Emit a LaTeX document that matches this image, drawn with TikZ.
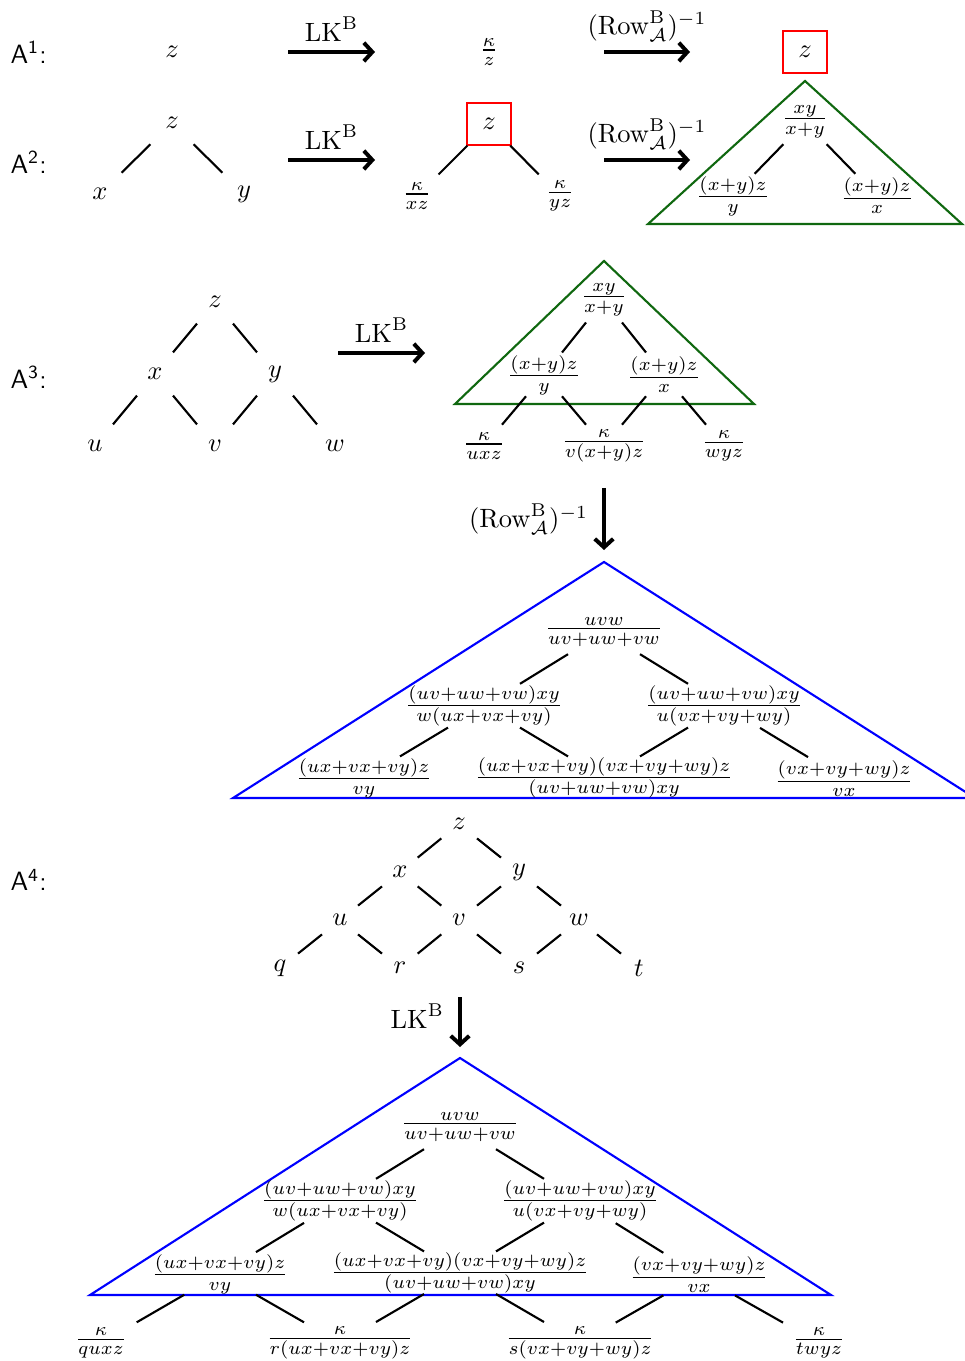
\documentclass[tikz,border=0pt]{standalone}
\usetikzlibrary{calc,arrows.meta}
\definecolor{dkgreen}{RGB}{16,104,16}
\newcommand\treeline[2]{\draw[edge] ($(#1)!0.3!(#2)$) -- ($(#1)!0.7!(#2)$);}
\tikzset{
  lab/.style={font=\sffamily, anchor=west, inner sep=0pt},
  tn/.style={inner sep=1pt},
  edge/.style={line width=0.8pt},
  maparrow/.style={line width=1.5pt,-{Straight Barb[length=3.2pt,width=7pt]}},
  redbox/.style={draw=red, line width=0.8pt, minimum width=16.6pt, minimum height=16.2pt, inner sep=0pt},
  gtri/.style={draw=dkgreen, line width=0.8pt},
  btri/.style={draw=blue, line width=0.8pt},
}
\begin{document}
\begin{tikzpicture}[x=0.378pt,y=-0.378pt]
\useasboundingbox (0,0) rectangle (965,1361);
% ---------- A1
\node[lab] (lA1) at (10,52) {A\textsuperscript{1}:};
\node[tn] (a1z) at (172,52) {$z$};
\node[tn] (a1k) at (489,52) {$\frac{\kappa}{z}$};
\node[redbox] (a1r) at (805,52) {$z$};
\coordinate (ar1s) at (288,52); \coordinate (ar1e) at (375,52);
\draw[maparrow] (ar1s) -- node[above=0pt] {$\mathrm{LK}^{\mathrm{B}}$} (ar1e);
\coordinate (ar2s) at (604,52); \coordinate (ar2e) at (690,52);
\draw[maparrow] (ar2s) -- node[above=0pt] {$(\mathrm{Row}^{\mathrm{B}}_{\mathcal{A}})^{-1}$} (ar2e);
% ---------- A2
\node[lab] (lA2) at (10,162) {A\textsuperscript{2}:};
\node[tn] (a2z) at (172,123) {$z$};
\node[tn] (a2x) at (100,194) {$x$};
\node[tn] (a2y) at (244,194) {$y$};
\treeline{a2z}{a2x}\treeline{a2z}{a2y}
\coordinate (ar3s) at (288,160); \coordinate (ar3e) at (375,160);
\draw[maparrow] (ar3s) -- node[above=0pt] {$\mathrm{LK}^{\mathrm{B}}$} (ar3e);
\node[redbox] (b2z) at (489,124) {$z$};
\node[tn] (b2x) at (417,196) {$\frac{\kappa}{xz}$};
\node[tn] (b2y) at (560,196) {$\frac{\kappa}{yz}$};
\treeline{b2z}{b2x}\treeline{b2z}{b2y}
\coordinate (ar4s) at (604,160); \coordinate (ar4e) at (690,160);
\draw[maparrow] (ar4s) -- node[above=0pt] {$(\mathrm{Row}^{\mathrm{B}}_{\mathcal{A}})^{-1}$} (ar4e);
\coordinate (g2a) at (805,81); \coordinate (g2l) at (648,224); \coordinate (g2r) at (962,224);
\draw[gtri] (g2a) -- (g2l) -- (g2r) -- cycle;
\node[tn] (c2z) at (805,122) {$\frac{xy}{x+y}$};
\node[tn] (c2x) at (733,196) {$\frac{(x+y)z}{y}$};
\node[tn] (c2y) at (877,196) {$\frac{(x+y)z}{x}$};
\treeline{c2z}{c2x}\treeline{c2z}{c2y}
% ---------- A3
\node[lab] (lA3) at (10,377) {A\textsuperscript{3}:};
\node[tn] (a3z) at (215,302) {$z$};
\node[tn] (a3x) at (155,374) {$x$};
\node[tn] (a3y) at (275,374) {$y$};
\node[tn] (a3u) at (95,446) {$u$};
\node[tn] (a3v) at (215,446) {$v$};
\node[tn] (a3w) at (335,446) {$w$};
\treeline{a3z}{a3x}\treeline{a3z}{a3y}
\treeline{a3x}{a3u}\treeline{a3x}{a3v}
\treeline{a3y}{a3v}\treeline{a3y}{a3w}
\coordinate (ar5s) at (338,353); \coordinate (ar5e) at (425,353);
\draw[maparrow] (ar5s) -- node[above=0pt] {$\mathrm{LK}^{\mathrm{B}}$} (ar5e);
\coordinate (g3a) at (604,261); \coordinate (g3l) at (455,404); \coordinate (g3r) at (754,404);
\draw[gtri] (g3a) -- (g3l) -- (g3r) -- cycle;
\node[tn] (b3z) at (604,300) {$\frac{xy}{x+y}$};
\node[tn] (b3x) at (544,375) {$\frac{(x+y)z}{y}$};
\node[tn] (b3y) at (664,375) {$\frac{(x+y)z}{x}$};
\node[tn] (b3u) at (484,446) {$\frac{\kappa}{uxz}$};
\node[tn] (b3v) at (604,446) {$\frac{\kappa}{v(x+y)z}$};
\node[tn] (b3w) at (724,446) {$\frac{\kappa}{wyz}$};
\treeline{b3z}{b3x}\treeline{b3z}{b3y}
\treeline{b3x}{b3u}\treeline{b3x}{b3v}
\treeline{b3y}{b3v}\treeline{b3y}{b3w}
\coordinate (ar6s) at (604,488); \coordinate (ar6e) at (604,550);
\draw[maparrow] (ar6s) -- node[left=2pt, pos=0.5] {$(\mathrm{Row}^{\mathrm{B}}_{\mathcal{A}})^{-1}$} (ar6e);
\coordinate (b3a) at (604,562); \coordinate (b3l) at (233,798); \coordinate (b3r) at (975,798);
\draw[btri] (b3a) -- (b3l) -- (b3r) -- cycle;
\node[tn] (c3z) at (604,632) {$\frac{uvw}{uv+uw+vw}$};
\node[tn] (c3x) at (484,706) {$\frac{(uv+uw+vw)xy}{w(ux+vx+vy)}$};
\node[tn] (c3y) at (724,706) {$\frac{(uv+uw+vw)xy}{u(vx+vy+wy)}$};
\node[tn] (c3u) at (364,778) {$\frac{(ux+vx+vy)z}{vy}$};
\node[tn] (c3v) at (604,778) {$\frac{(ux+vx+vy)(vx+vy+wy)z}{(uv+uw+vw)xy}$};
\node[tn] (c3w) at (844,779) {$\frac{(vx+vy+wy)z}{vx}$};
\treeline{c3z}{c3x}\treeline{c3z}{c3y}
\treeline{c3x}{c3u}\treeline{c3x}{c3v}
\treeline{c3y}{c3v}\treeline{c3y}{c3w}
% ---------- A4
\node[lab] (lA4) at (10,880) {A\textsuperscript{4}:};
\node[tn] (dz) at (459,824) {$z$};
\node[tn] (dx) at (400,872) {$x$};
\node[tn] (dy) at (519,872) {$y$};
\node[tn] (du) at (340,920) {$u$};
\node[tn] (dv) at (459,920) {$v$};
\node[tn] (dw) at (579,920) {$w$};
\node[tn] (dq) at (280,968) {$q$};
\node[tn] (dr) at (400,968) {$r$};
\node[tn] (ds) at (519,968) {$s$};
\node[tn] (dt) at (639,968) {$t$};
\treeline{dz}{dx}\treeline{dz}{dy}
\treeline{dx}{du}\treeline{dx}{dv}\treeline{dy}{dv}\treeline{dy}{dw}
\treeline{du}{dq}\treeline{du}{dr}\treeline{dv}{dr}\treeline{dv}{ds}\treeline{dw}{ds}\treeline{dw}{dt}
\coordinate (ar7s) at (460,997); \coordinate (ar7e) at (460,1047);
\draw[maparrow] (ar7s) -- node[left=2pt, pos=0.38] {$\mathrm{LK}^{\mathrm{B}}$} (ar7e);
\coordinate (b4a) at (460,1058); \coordinate (b4l) at (90,1295); \coordinate (b4r) at (831,1295);
\draw[btri] (b4a) -- (b4l) -- (b4r) -- cycle;
\node[tn] (ez) at (460,1127) {$\frac{uvw}{uv+uw+vw}$};
\node[tn] (ex) at (340,1201) {$\frac{(uv+uw+vw)xy}{w(ux+vx+vy)}$};
\node[tn] (ey) at (580,1201) {$\frac{(uv+uw+vw)xy}{u(vx+vy+wy)}$};
\node[tn] (eu) at (220,1274) {$\frac{(ux+vx+vy)z}{vy}$};
\node[tn] (ev) at (460,1273) {$\frac{(ux+vx+vy)(vx+vy+wy)z}{(uv+uw+vw)xy}$};
\node[tn] (ew) at (699,1275) {$\frac{(vx+vy+wy)z}{vx}$};
\node[tn] (eq) at (101,1343) {$\frac{\kappa}{quxz}$};
\node[tn] (er) at (340,1343) {$\frac{\kappa}{r(ux+vx+vy)z}$};
\node[tn] (es) at (580,1343) {$\frac{\kappa}{s(vx+vy+wy)z}$};
\node[tn] (et) at (819,1343) {$\frac{\kappa}{twyz}$};
\treeline{ez}{ex}\treeline{ez}{ey}
\treeline{ex}{eu}\treeline{ex}{ev}\treeline{ey}{ev}\treeline{ey}{ew}
\treeline{eu}{eq}\treeline{eu}{er}\treeline{ev}{er}\treeline{ev}{es}\treeline{ew}{es}\treeline{ew}{et}
\end{tikzpicture}
\end{document}
